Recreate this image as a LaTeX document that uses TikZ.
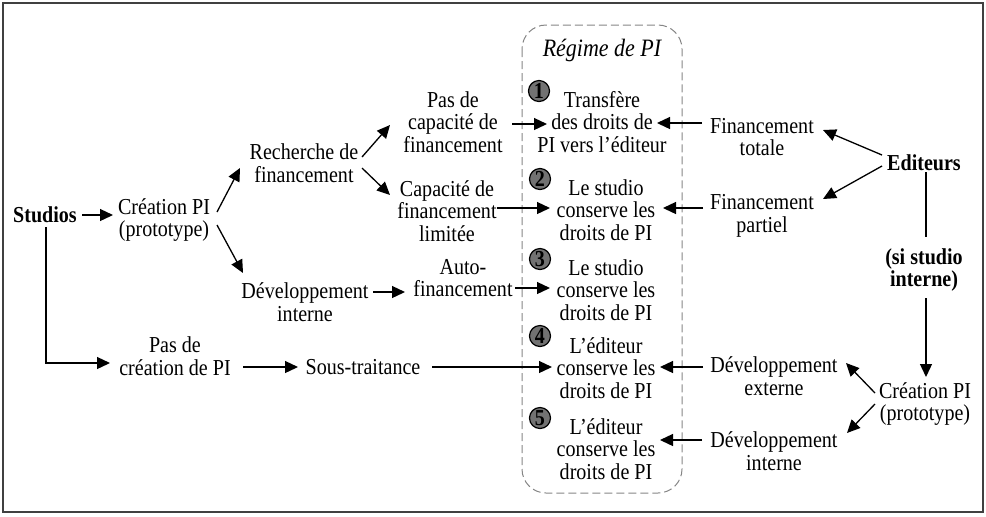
\documentclass[tikz,border=0pt]{standalone}
\usepackage{fontspec}
\setmainfont{Liberation Serif}[FakeStretch=0.88]
\usetikzlibrary{arrows.meta}
\definecolor{numgray}{HTML}{727272}
\definecolor{framegray}{HTML}{404040}
\definecolor{dashgray}{HTML}{858585}
\begin{document}
\begin{tikzpicture}[x=0.5pt,y=-0.5pt,
  txt/.style={font=\fontsize{11.4}{11.3}\selectfont, align=center, inner sep=0pt},
  btxt/.style={font=\fontsize{11.4}{11.3}\selectfont\bfseries, align=center, inner sep=0pt},
  arr/.style={-{Triangle[length=6.5pt,width=6pt]}, line width=0.65pt},
  ln/.style={line width=0.65pt},
  num/.style={circle, draw=black, line width=0.6pt, fill=numgray, minimum size=10.5pt, inner sep=0pt, font=\fontsize{11.4}{11}\selectfont\bfseries}]
\useasboundingbox (0,0) rectangle (986,516);
\draw[framegray, line width=0.75pt] (3,3) rectangle (983,512);
\draw[dashgray, dash pattern=on 4pt off 2pt, rounded corners=12pt, line width=0.5pt] (522,25) rectangle (682,493);

% left side
\node[btxt] (studios) at (45,215) {Studios};
\node[txt] (crea) at (164,220) {Création PI\\(prototype)};
\node[txt] (rech) at (304,163) {Recherche de\\financement};
\node[txt] (dev) at (305,302) {Développement\\interne};
\node[txt] (pasde) at (175,356) {Pas de\\création de PI};
\node[txt] (sous) at (363,367) {Sous-traitance};
\node[txt] (pascap) at (453,122) {Pas de\\capacité de\\financement};
\node[txt] (capl) at (447,211) {Capacité de\\financement\\limitée};
\node[txt] (auto) at (463,278) {Auto-\\financement};

% middle
\node[txt, font=\fontsize{12.5}{12}\selectfont\itshape] (regime) at (602,50) {Régime de PI};
\node[txt] (b1) at (602,122) {Transfère\\des droits de\\PI vers l’éditeur};
\node[txt] (b2) at (606,210) {Le studio\\conserve les\\droits de PI};
\node[txt] (b3) at (606,290) {Le studio\\conserve les\\droits de PI};
\node[txt] (b4) at (606,368) {L’éditeur\\conserve les\\droits de PI};
\node[txt] (b5) at (606,449) {L’éditeur\\conserve les\\droits de PI};
\node[num] (n1) at (539,91) {1};
\node[num] (n2) at (540,179) {2};
\node[num] (n3) at (540,259) {3};
\node[num] (n4) at (540,336) {4};
\node[num] (n5) at (540,418) {5};

% right side
\node[txt] (fint) at (762,137) {Financement\\totale};
\node[txt] (finp) at (762,216) {Financement\\partiel};
\node[btxt] (edit) at (924,163) {Editeurs};
\node[btxt] (si) at (924,270) {(si studio\\interne)};
\node[txt] (crea2) at (925,404) {Création PI\\(prototype)};
\node[txt] (dext) at (774,376) {Développement\\externe};
\node[txt] (dint) at (774,451) {Développement\\interne};

% left connectors
\draw[arr] ([shift={(37,0)}]studios.center) -- ([shift={(-51,-5)}]crea.center);
\draw[arr] ([shift={(1,12)}]studios.center) |- ([shift={(-65,7)}]pasde.center);
\draw[arr] ([shift={(53,-8)}]crea.center) -- ([shift={(-64,5)}]rech.center);
\draw[arr] ([shift={(53,5)}]crea.center) -- ([shift={(-62,-29)}]dev.center);
\draw[arr] ([shift={(58,-6)}]rech.center) -- ([shift={(-63,3)}]pascap.center);
\draw[arr] ([shift={(58,5)}]rech.center) -- ([shift={(-57,-16)}]capl.center);
\draw[arr] ([shift={(68,-10)}]dev.center) -- ([shift={(-58,14)}]auto.center);
\draw[arr] ([shift={(68,11)}]pasde.center) -- ([shift={(-65,0)}]sous.center);
\draw[arr] ([shift={(69,0)}]sous.center) -- ([shift={(-54,-1)}]b4.center);
\draw[arr] ([shift={(59,2)}]pascap.center) -- ([shift={(-55,2)}]b1.center);
\draw[arr] ([shift={(50,-3)}]capl.center) -- ([shift={(-56,-2)}]b2.center);
\draw[arr] ([shift={(52,10)}]auto.center) -- ([shift={(-56,-2)}]b3.center);

% right connectors
\draw[arr] ([shift={(-60,-14)}]fint.center) -- ([shift={(55,1)}]b1.center);
\draw[arr] ([shift={(-59,-8)}]finp.center) -- ([shift={(57,-2)}]b2.center);
\draw[arr] ([shift={(-71,-9)}]dext.center) -- ([shift={(54,-1)}]b4.center);
\draw[arr] ([shift={(-72,-11)}]dint.center) -- ([shift={(54,-9)}]b5.center);
\draw[arr] ([shift={(-42,-8)}]edit.center) -- ([shift={(61,-7)}]fint.center);
\draw[arr] ([shift={(-42,3)}]edit.center) -- ([shift={(61,-17)}]finp.center);
\draw[ln] ([shift={(2,9)}]edit.center) -- ([shift={(2,-33)}]si.center);
\draw[arr] ([shift={(2,28)}]si.center) -- ([shift={(1,-27)}]crea2.center);
\draw[arr] ([shift={(-50,-11)}]crea2.center) -- ([shift={(72,-13)}]dext.center);
\draw[arr] ([shift={(-50,0)}]crea2.center) -- ([shift={(73,-18)}]dint.center);
\end{tikzpicture}
\end{document}
